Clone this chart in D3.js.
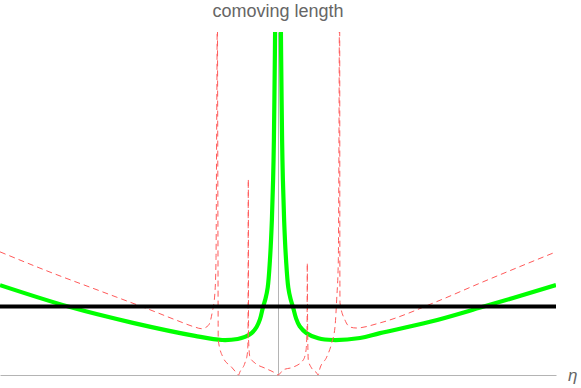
<!DOCTYPE html>
<html>
<head>
<meta charset="utf-8">
<script src="https://cdn.jsdelivr.net/npm/d3@7"></script>
<style>
  body { margin: 0; background: #fff; }
  svg { display: block; }
  .lbl { font-family: "Liberation Sans", Arial, sans-serif; fill: #666; }
</style>
</head>
<body>
<div id="chart"></div>
<script>
// values: [eta, comoving length]
var greenLeft = [[-10, 2.62], [-7.48, 1.98], [-5.22, 1.52], [-2.99, 1.14], [-2.01, 1.02], [-1.45, 1.05],
  [-1.19, 1.11], [-0.95, 1.22], [-0.77, 1.40], [-0.65, 1.62], [-0.54, 1.98], [-0.45, 2.22],
  [-0.37, 2.55], [-0.29, 3.35], [-0.22, 4.52], [-0.16, 6.27], [-0.13, 8.02], [-0.105, 10.0],
  [-0.09, 12.0]];
var greenRight = [[0.09, 12.0], [0.105, 10.0], [0.13, 8.02], [0.16, 6.27], [0.22, 4.52], [0.29, 3.35],
  [0.37, 2.55], [0.45, 2.22], [0.54, 1.98], [0.65, 1.65], [0.78, 1.42], [1.03, 1.22],
  [1.45, 1.07], [1.98, 1.02], [2.95, 1.08], [3.67, 1.22], [5.47, 1.55], [7.34, 1.98], [10, 2.62]];
var blackLevel = 2.0;

var redOuterLeft = [[-10, 3.59], [-8.2, 3.00], [-6.4, 2.45], [-4.6, 1.90], [-3.6, 1.58], [-3.0, 1.40],
  [-2.75, 1.35], [-2.5, 1.45], [-2.37, 1.81], [-2.27, 2.39], [-2.23, 3.35], [-2.21, 6.56],
  [-2.19, 10.0], [-2.185, 11.5]];
var redMiddle = [[-2.18, 11.5], [-2.176, 10.0], [-2.16, 4.0], [-2.15, 1.02], [-1.98, 0.52], [-1.67, 0.23],
  [-1.49, 0.06], [-1.42, 0.0], [-1.37, 0.09], [-1.19, 0.35], [-1.10, 0.64], [-1.08, 1.02],
  [-1.068, 5.71], [-1.058, 1.02], [-1.01, 0.52], [-0.83, 0.35], [-0.47, 0.20], [-0.11, 0.06],
  [0, 0.0], [0.19, 0.15], [0.55, 0.23], [0.91, 0.44], [1.01, 0.73], [1.045, 1.40],
  [1.054, 3.27], [1.065, 1.40], [1.09, 0.44], [1.21, 0.20], [1.39, 0.06], [1.44, 0.0],
  [1.51, 0.20], [1.75, 0.52], [1.93, 0.93], [2.05, 1.40], [2.11, 2.19], [2.17, 3.35],
  [2.19, 6.27], [2.205, 10.0], [2.21, 11.5]];
var redOuterRight = [[2.215, 11.5], [2.22, 10.0], [2.225, 3.35], [2.23, 2.10], [2.41, 1.60], [2.59, 1.40],
  [2.81, 1.37], [3.67, 1.52], [5.71, 2.14], [7.27, 2.68], [10, 3.59]];

var svgWidth = 581, svgHeight = 388;

var svg = d3.select("#chart").append("svg")
  .attr("width", svgWidth)
  .attr("height", svgHeight);

var x = d3.scaleLinear().domain([-10, 10]).range([0, 556]);
var y = d3.scaleLinear().domain([0, 10]).range([375, 32]);

svg.append("defs").append("clipPath").attr("id", "plot")
  .append("rect").attr("x", 0).attr("y", 32).attr("width", 556).attr("height", 345);

// axes, no ticks
svg.append("g")
  .attr("transform", `translate(0, ${y(0)})`)
  .call(d3.axisBottom(x).tickValues([]).tickSizeOuter(0))
  .select(".domain").attr("stroke", "#b4b4b4");

svg.append("g")
  .attr("transform", `translate(${x(0)}, 0)`)
  .call(d3.axisLeft(y).tickValues([]).tickSizeOuter(0))
  .select(".domain").attr("stroke", "#b4b4b4");

var smooth = d3.line()
  .x(d => x(d[0]))
  .y(d => y(d[1]))
  .curve(d3.curveCatmullRom.alpha(0.5));

var line = d3.line()
  .x(d => x(d[0]))
  .y(d => y(d[1]))
  .curve(d3.curveMonotoneX);

var plot = svg.append("g").attr("clip-path", "url(#plot)");

[greenLeft, greenRight].forEach(function(s) {
  plot.append("path").datum(s)
    .attr("d", smooth)
    .attr("fill", "none")
    .attr("stroke", "#00ff00")
    .attr("stroke-width", 4.2);
});

[redOuterLeft, redMiddle, redOuterRight].forEach(function(s) {
  plot.append("path").datum(s)
    .attr("d", line)
    .attr("fill", "none")
    .attr("stroke", "#ff5a5a")
    .attr("stroke-width", 1)
    .attr("stroke-dasharray", "6,4");
});

plot.append("line")
  .attr("x1", x(-10)).attr("x2", x(10))
  .attr("y1", y(blackLevel)).attr("y2", y(blackLevel))
  .attr("stroke", "#000")
  .attr("stroke-width", 4);

// axis labels
svg.append("text")
  .attr("class", "lbl")
  .attr("x", x(0))
  .attr("y", 17)
  .attr("text-anchor", "middle")
  .attr("font-size", "18px")
  .text("comoving length");

svg.append("text")
  .attr("class", "lbl")
  .attr("x", 568)
  .attr("y", 381)
  .attr("font-size", "17px")
  .attr("font-style", "italic")
  .text("η");
</script>
</body>
</html>
